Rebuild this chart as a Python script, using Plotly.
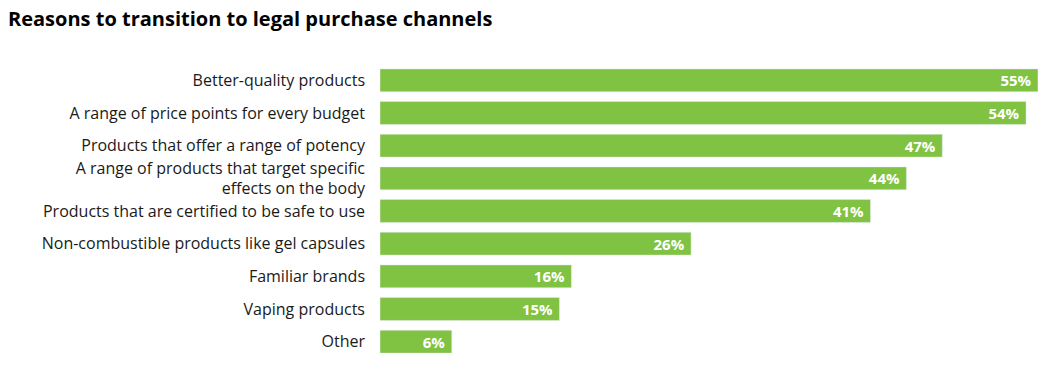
import plotly.graph_objects as go

categories = [
    "Better-quality products",
    "A range of price points for every budget",
    "Products that offer a range of potency",
    "A range of products that target specific<br>effects on the body",
    "Products that are certified to be safe to use",
    "Non-combustible products like gel capsules",
    "Familiar brands",
    "Vaping products",
    "Other",
]
values = [55, 54, 47, 44, 41, 26, 16, 15, 6]
value_labels = [f"{v}%\u00a0" for v in values]

fig = go.Figure(go.Bar(
    x=values,
    y=categories,
    orientation="h",
    marker=dict(color="#80C242"),
    text=value_labels,
    textposition="inside",
    insidetextanchor="end",
    constraintext="none",
    textfont=dict(family="Open Sans", size=15, color="white", weight="bold"),
    cliponaxis=False,
))

fig.update_layout(
    width=1054,
    height=383,
    plot_bgcolor="white",
    paper_bgcolor="white",
    margin=dict(l=372, r=24, t=56, b=33),
    bargap=0.3,
    showlegend=False,
    title=dict(
        text="<b>Reasons to transition to legal purchase channels</b>",
        xref="container", x=0, xanchor="left",
        yref="container", y=1, yanchor="top",
        pad=dict(l=0, t=4),
        font=dict(family="Open Sans", size=20, color="black"),
    ),
    xaxis=dict(range=[0, 55], visible=False, automargin=False),
    yaxis=dict(
        autorange="reversed",
        showgrid=False,
        ticks="",
        automargin=False,
        ticklabelstandoff=14,
        tickfont=dict(family="Open Sans", size=16, color="#1a1a1a"),
    ),
    font=dict(family="Open Sans"),
)

fig.write_html("out.html")
